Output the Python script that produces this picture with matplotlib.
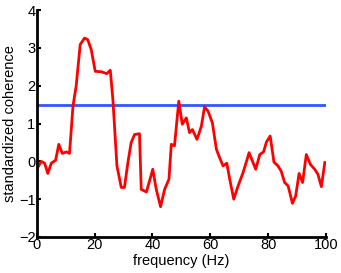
import matplotlib
matplotlib.use("Agg")
import matplotlib.pyplot as plt

plt.rcParams['font.family'] = ['Liberation Sans', 'DejaVu Sans']

# standardized coherence vs frequency
freq = [0, 1.5, 2.7, 3.8, 5.0, 6.5, 7.6, 8.8, 10.2, 11.3, 12.5, 13.6, 15.0, 16.5,
        17.6, 18.8, 20.2, 22.3, 24.2, 25.4, 26.3, 27.7, 29.2, 30.3, 31.5, 32.6,
        33.8, 35.5, 36.1, 37.9, 40.1, 41.3, 42.8, 44.2, 45.7, 46.5, 47.6, 49.1,
        50.3, 51.7, 52.8, 53.8, 55.4, 56.9, 58.0, 59.2, 60.7, 62.1, 63.2, 64.4,
        65.7, 66.7, 68.1, 69.6, 71.3, 72.2, 73.4, 75.7, 77.1, 78.4, 79.4, 80.7,
        82.0, 83.4, 84.5, 85.7, 86.9, 88.4, 89.5, 90.7, 91.9, 93.2, 94.6, 96.1,
        97.2, 98.4, 99.6]
coherence = [-0.21, 0.0, -0.05, -0.32, -0.05, 0.03, 0.45, 0.21, 0.25, 0.21, 1.46,
             1.99, 3.09, 3.26, 3.22, 2.96, 2.38, 2.37, 2.32, 2.41, 1.64, -0.12,
             -0.69, -0.69, -0.03, 0.49, 0.71, 0.73, -0.74, -0.81, -0.21, -0.74,
             -1.2, -0.74, -0.47, 0.45, 0.41, 1.59, 0.98, 1.15, 0.76, 0.84, 0.58,
             0.93, 1.44, 1.33, 1.02, 0.32, 0.10, -0.12, -0.05, -0.47, -1.0, -0.65,
             -0.3, -0.08, 0.23, -0.21, 0.18, 0.25, 0.51, 0.67, -0.02, -0.12,
             -0.26, -0.56, -0.65, -1.11, -0.92, -0.32, -0.56, 0.18, -0.08, -0.21,
             -0.34, -0.67, -0.03]
threshold_x = [0, 100]
threshold_y = [1.5, 1.5]

fig = plt.figure(figsize=(3.41, 2.73), dpi=100)
ax = fig.add_axes([0.108, 0.132, 0.848, 0.831])

ax.plot(threshold_x, threshold_y, color='#3355ff', lw=2)
ax.plot(freq, coherence, color='red', lw=2)

ax.set_xlim(0, 100)
ax.set_ylim(-2, 4)
ax.set_xticks([0, 20, 40, 60, 80, 100])
ax.set_yticks([-2, -1, 0, 1, 2, 3, 4])
ax.spines['top'].set_visible(False)
ax.spines['right'].set_visible(False)
ax.spines['left'].set_linewidth(2)
ax.spines['bottom'].set_linewidth(2)
ax.tick_params(direction='in', length=3, width=1.5, labelsize=10.5, pad=1)
ax.set_xlabel('frequency (Hz)', fontsize=10.5, labelpad=1)
ax.set_ylabel('standardized coherence', fontsize=10.5, labelpad=1)

fig.savefig('out.png', dpi=100)
plt.close()
